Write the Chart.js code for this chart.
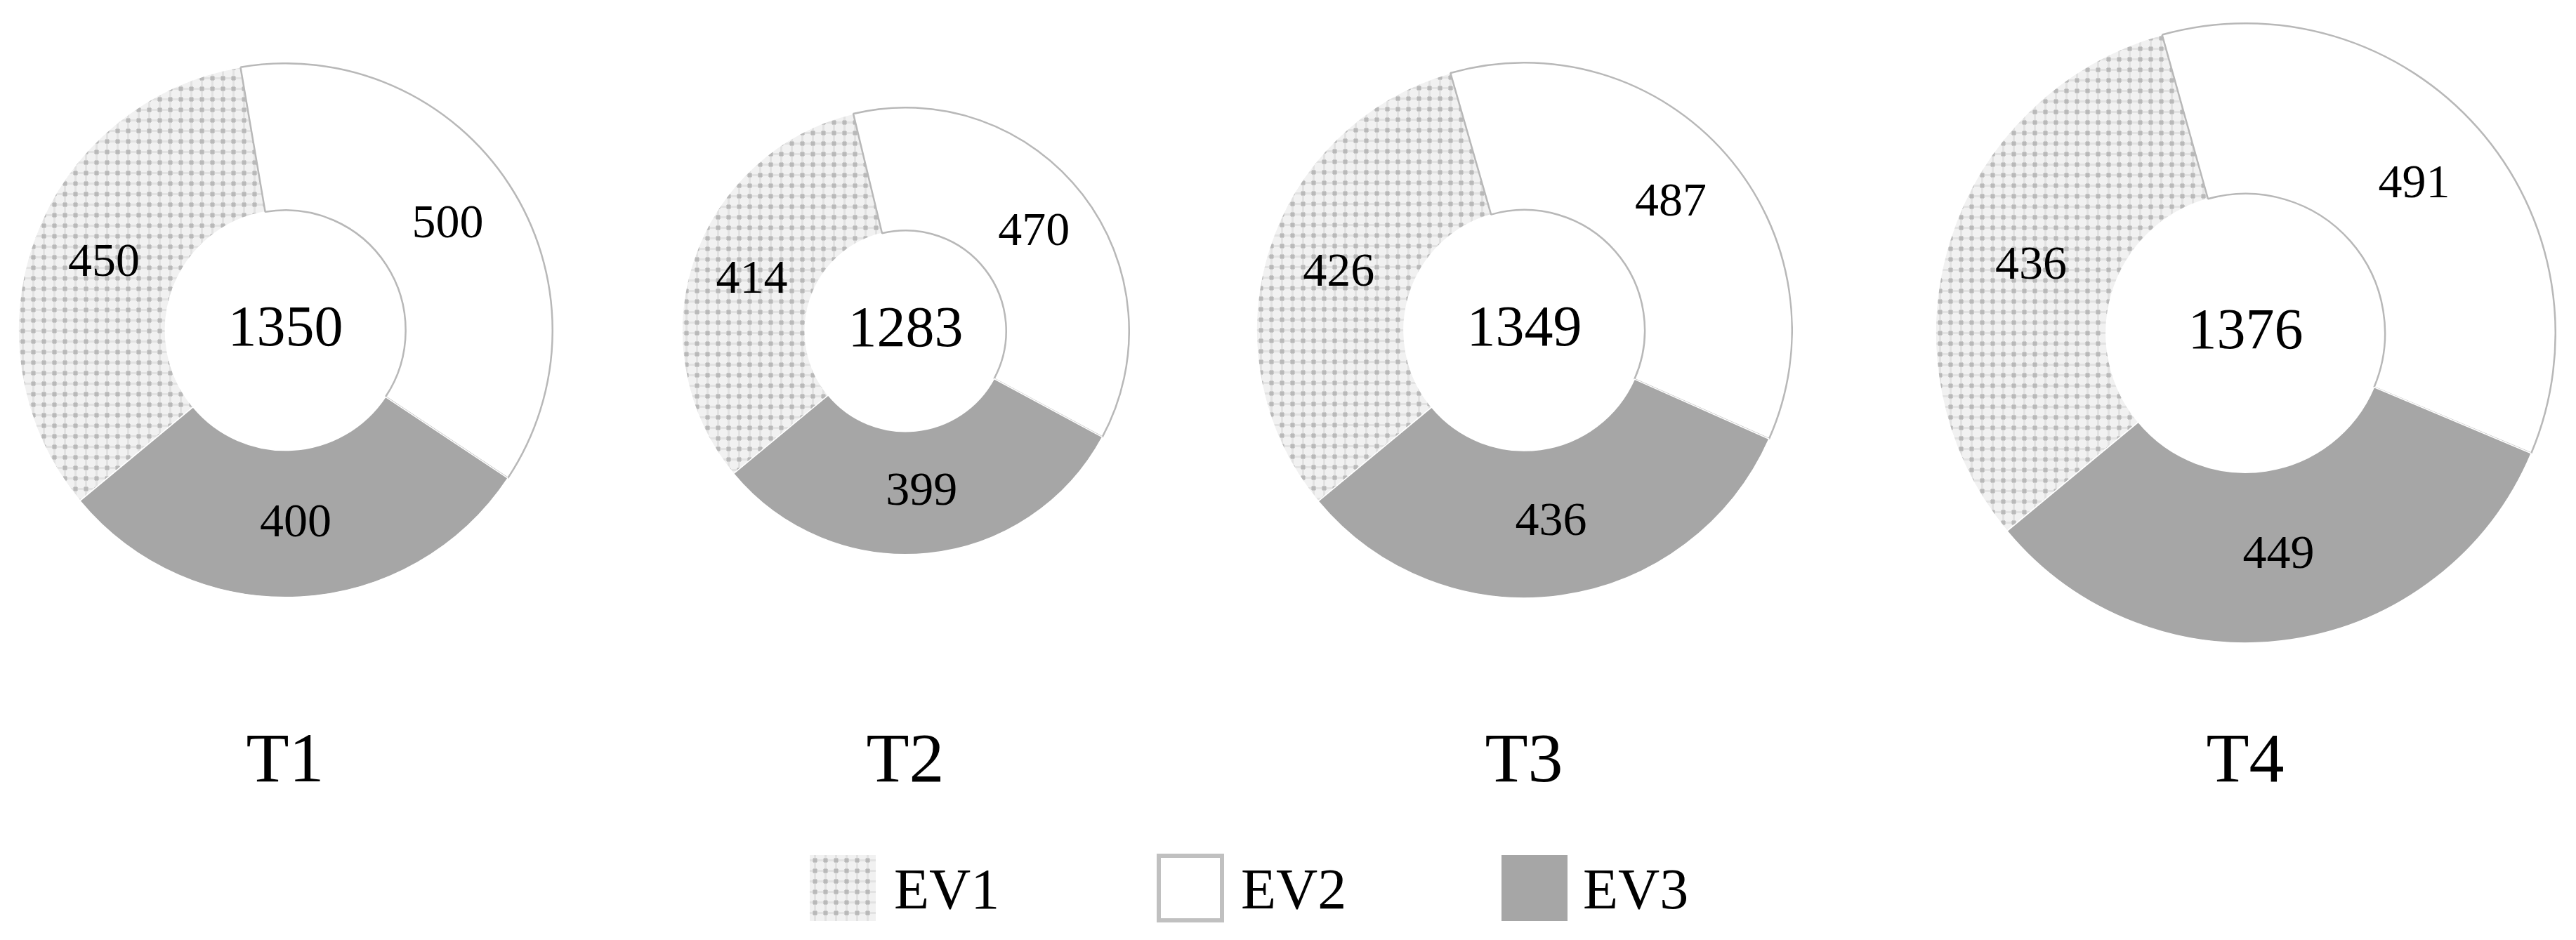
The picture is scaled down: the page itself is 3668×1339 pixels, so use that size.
<!DOCTYPE html>
<html lang="en">
<head>
    <meta charset="UTF-8">
    <title>EV donuts T1-T4</title>
    <script src="https://cdn.jsdelivr.net/npm/chart.js"></script>
    <style>
        body {
            margin: 0;
            background: #fff;
            font-family: "Liberation Serif", "Times New Roman", serif;
        }
        #page {
            position: relative;
            width: 3668px;
            height: 1339px;
            overflow: hidden;
        }
        #page canvas.donut {
            position: absolute;
        }
        .period {
            position: absolute;
            top: 1030px;
            width: 300px;
            margin-left: -150px;
            text-align: center;
            font-size: 100px;
            line-height: 100px;
            color: #000;
        }
        .swatch {
            position: absolute;
            top: 1218px;
            width: 94px;
            height: 94px;
            box-sizing: border-box;
        }
        .legendText {
            position: absolute;
            top: 1222px;
            font-size: 82px;
            line-height: 90px;
            color: #000;
        }
    </style>
</head>
<body>
    <div id="page"></div>

    <script>
        // data
        const periods = ['T1', 'T2', 'T3', 'T4'];
        const categories = ['EV1', 'EV2', 'EV3'];
        const ev1 = [450, 414, 426, 436];
        const ev2 = [500, 470, 487, 491];
        const ev3 = [400, 399, 436, 449];

        // layout of each donut: centre and outer radius in px
        const layout = [
            { cx: 406, cy: 470, r: 380 },
            { cx: 1289, cy: 471, r: 318 },
            { cx: 2170, cy: 470, r: 381 },
            { cx: 3197, cy: 474, r: 441 }
        ];
        const BW = 3;

        const page = document.getElementById('page');

        // dotted grid pattern for EV1
        function makePatternTile() {
            const t = document.createElement('canvas');
            t.width = 15;
            t.height = 15;
            const c = t.getContext('2d');
            c.fillStyle = '#f1f1f1';
            c.fillRect(0, 0, 15, 15);
            c.fillStyle = '#e2e2e2';
            c.fillRect(0, 6, 15, 3);
            c.fillRect(6, 0, 3, 15);
            c.fillStyle = '#cbcbcb';
            c.fillRect(4, 5, 7, 5);
            c.fillRect(5, 4, 5, 7);
            c.fillStyle = '#b9b9b9';
            c.fillRect(5, 5, 5, 5);
            return t;
        }
        const tile = makePatternTile();

        const labelPlugin = {
            id: 'sliceLabels',
            afterDatasetsDraw(chart) {
                const ctx = chart.ctx;
                const meta = chart.getDatasetMeta(0);
                const values = chart.data.datasets[0].data;
                ctx.save();
                ctx.fillStyle = '#000';
                ctx.textAlign = 'center';
                ctx.textBaseline = 'middle';
                ctx.font = '68px "Liberation Serif"';
                meta.data.forEach((arc, i) => {
                    const p = arc.tooltipPosition();
                    ctx.fillText(String(values[i]), p.x, p.y);
                });
                const total = values.reduce((a, b) => a + b, 0);
                ctx.font = '82px "Liberation Serif"';
                ctx.fillText(String(total), meta.data[0].x, meta.data[0].y);
                ctx.restore();
            }
        };

        periods.forEach((name, k) => {
            const L = layout[k];
            const size = 2 * L.r + BW;
            const cv = document.createElement('canvas');
            cv.className = 'donut';
            cv.width = size;
            cv.height = size;
            cv.style.width = size + 'px';
            cv.style.height = size + 'px';
            cv.style.left = (L.cx - size / 2) + 'px';
            cv.style.top = (L.cy - size / 2) + 'px';
            page.appendChild(cv);

            const ctx = cv.getContext('2d');
            const pattern = ctx.createPattern(tile, 'repeat');

            new Chart(ctx, {
                type: 'doughnut',
                data: {
                    labels: categories,
                    datasets: [{
                        data: [ev1[k], ev2[k], ev3[k]],
                        backgroundColor: [pattern, '#ffffff', '#a6a6a6'],
                        borderColor: ['#ffffff', '#b8b8b8', '#ffffff'],
                        borderWidth: [1.5, 2.5, 1.5],
                        hoverOffset: 0,
                        offset: 0
                    }]
                },
                options: {
                    responsive: false,
                    animation: false,
                    events: [],
                    cutout: '45%',
                    rotation: -129.7,
                    layout: { padding: 0 },
                    plugins: {
                        legend: { display: false },
                        tooltip: { enabled: false }
                    }
                },
                plugins: [labelPlugin]
            });

            const lab = document.createElement('div');
            lab.className = 'period';
            lab.style.left = L.cx + 'px';
            lab.textContent = name;
            page.appendChild(lab);
        });

        // legend
        const legendPos = [
            { box: 1153, text: 1273 },
            { box: 1647, text: 1767 },
            { box: 2138, text: 2254 }
        ];
        categories.forEach((name, i) => {
            let sw;
            if (i === 0) {
                sw = document.createElement('canvas');
                sw.width = 94;
                sw.height = 94;
                const c = sw.getContext('2d');
                c.fillStyle = c.createPattern(tile, 'repeat');
                c.fillRect(0, 0, 94, 94);
            } else {
                sw = document.createElement('div');
                if (i === 1) {
                    sw.style.border = '6px solid #c0c0c0';
                    sw.style.background = '#fff';
                    sw.style.width = '96px';
                    sw.style.height = '98px';
                    sw.style.top = '1216px';
                } else {
                    sw.style.background = '#a6a6a6';
                }
            }
            sw.classList.add('swatch');
            sw.style.left = legendPos[i].box + 'px';
            page.appendChild(sw);

            const t = document.createElement('div');
            t.className = 'legendText';
            t.style.left = legendPos[i].text + 'px';
            t.textContent = name;
            page.appendChild(t);
        });
    </script>
</body>
</html>
